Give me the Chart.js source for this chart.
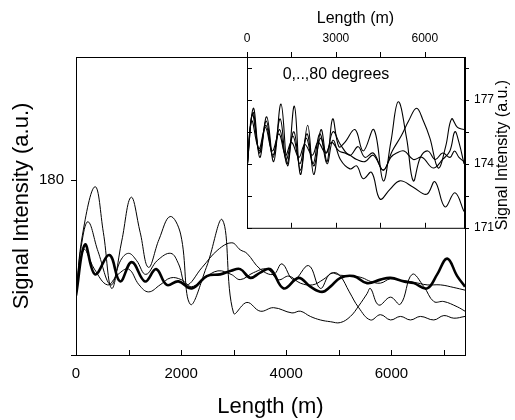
<!DOCTYPE html>
<html>
<head>
<meta charset="utf-8">
<script src="https://cdn.jsdelivr.net/npm/chart.js@4.4.1/dist/chart.umd.min.js"></script>
<style>
  html, body { margin: 0; padding: 0; background: #fff; }
  #wrap { position: relative; width: 515px; height: 420px; }
  #mainChart { position: absolute; left: 0; top: 0; }
  #insetChart { position: absolute; left: 200px; top: 0; }
</style>
</head>
<body>
<div id="wrap">
  <canvas id="mainChart" width="515" height="420"></canvas>
  <canvas id="insetChart" width="315" height="245"></canvas>
</div>
<script>
const FONT = "Arial, 'Liberation Sans', Helvetica, sans-serif";

// ---- main plot: [length (m), signal intensity] ----
const mainBold = [[0,173.4],[170,176.3],[362,174.6],[635,175.7],[838,174.2],[1060,175.3],[1314,174.2],[1524,174.9],[1727,174.0],[1949,174.2],[2203,173.8],[2489,174.5],[2743,174.6],[2950,174.8],[3124,174.9],[3315,174.4],[3505,174.7],[3696,174.9],[3950,173.8],[4235,174.4],[4458,173.9],[4680,173.6],[4839,173.9],[5029,174.4],[5283,174.5],[5537,174.1],[5791,174.3],[5982,174.4],[6236,174.2],[6426,174.1],[6680,173.8],[6871,174.6],[7061,175.5],[7252,174.5],[7400,173.9]];
const mainA = [[0,173.4],[120,176.8],[362,179.6],[520,177.0],[679,173.8],[870,176.5],[1048,179.0],[1220,177.0],[1378,175.0],[1580,176.6],[1791,177.9],[1990,176.9],[2172,172.9],[2480,175.0],[2787,177.7],[2997,172.4],[3251,173.0],[3505,172.5],[3759,172.7],[4108,172.4],[4267,172.5],[4458,172.2],[4648,172.0],[4839,171.9],[5029,171.85],[5220,172.2],[5378,172.8],[5537,173.5],[5600,173.8],[5759,172.85],[5982,173.3],[6172,172.9],[6394,174.6],[6617,173.9],[6807,173.05],[6998,173.05],[7252,172.75],[7400,172.5]];
const mainC = [[0,173.4],[100,176.2],[230,177.6],[420,175.9],[661,174.0],[850,175.4],[1000,175.8],[1150,175.4],[1327,174.6],[1550,175.4],[1803,175.8],[1950,175.2],[2100,174.0],[2400,175.0],[2700,176.0],[2965,176.4],[3124,176.0],[3251,175.8],[3505,174.9],[3759,174.6],[3918,175.2],[4140,174.3],[4426,175.1],[4648,173.8],[4839,174.65],[5029,174.55],[5283,174.5],[5450,174.4],[5600,174.2],[5791,174.1],[5982,174.35],[6172,174.25],[6426,174.15],[6680,174.0],[6934,174.0],[7188,173.85],[7400,173.7]];
const mainD = [[0,173.4],[150,176.0],[350,174.9],[600,174.0],[800,174.6],[1000,174.9],[1200,174.0],[1380,173.6],[1600,174.0],[1800,174.4],[2000,174.3],[2200,173.9],[2450,174.4],[2700,174.8],[2950,174.6],[3124,174.3],[3378,174.7],[3632,174.9],[3850,174.3],[4050,174.5],[4267,174.1],[4500,174.0],[4700,174.3],[4900,174.7],[5029,174.5],[5200,173.6],[5378,172.7],[5600,172.0],[5791,172.3],[5982,172.0],[6172,172.2],[6362,172.0],[6553,172.2],[6807,172.0],[6998,172.25],[7188,172.1],[7400,172.2]];

const mainXTicks = [0,1000,2000,3000,4000,5000,6000,7000];
const mainXLabels = ['0','','2000','','4000','','6000',''];
const mainYTicks = [170,180];
const mainYLabels = ['','180'];

// ---- inset: 0,..,80 degrees ----
const insetA = [[0,173.75],[214,176.6],[430,174.3],[664,176.2],[900,174.1],[1147,176.8],[1370,173.9],[1597,176.7],[1800,173.5],[2046,175.8],[2250,173.5],[2496,175.6],[2700,174.1],[2889,176.1],[3100,174.8],[3300,175.0],[3641,175.6],[3922,174.6],[4281,175.6],[4596,173.2],[4850,175.0],[5102,176.9],[5383,175.2],[5608,173.2],[5850,174.3],[6100,174.6],[6350,174.2],[6600,174.5],[6850,174.3],[7000,174.6],[7150,174.3],[7320,174.1]];
const insetB = [[0,173.75],[180,176.3],[420,174.6],[640,175.8],[870,174.4],[1100,175.6],[1320,174.2],[1550,175.3],[1780,174.0],[2000,175.2],[2230,174.0],[2450,175.4],[2680,174.5],[2900,175.5],[3150,174.9],[3472,174.4],[3750,174.8],[3978,174.3],[4259,174.5],[4596,173.7],[4900,174.6],[5200,175.3],[5450,176.0],[5720,176.6],[5950,176.0],[6170,175.2],[6451,173.8],[6700,174.8],[6900,176.1],[7100,175.7],[7320,175.6]];
const insetC = [[0,173.75],[160,176.0],[400,174.7],[620,175.7],[850,174.6],[1080,175.4],[1300,174.4],[1500,175.0],[1750,174.3],[1950,174.9],[2200,174.4],[2400,175.0],[2650,174.5],[2850,175.0],[3100,174.6],[3300,174.5],[3472,174.4],[3700,174.2],[3978,174.1],[4259,174.4],[4596,173.7],[4850,174.3],[5046,174.5],[5300,174.6],[5608,174.2],[5900,174.3],[6282,173.8],[6600,174.2],[6844,174.6],[7012,175.5],[7150,175.0],[7320,174.0]];
const insetD = [[0,173.75],[200,176.4],[420,174.5],[650,176.0],[880,174.3],[1120,176.1],[1340,174.0],[1580,175.5],[1800,173.7],[2020,175.4],[2250,173.9],[2480,175.2],[2700,174.0],[2900,175.1],[3150,174.2],[3472,173.76],[3700,173.9],[3922,173.3],[4203,173.6],[4485,172.35],[4822,172.8],[5159,173.2],[5609,172.9],[6058,172.57],[6339,173.16],[6677,171.98],[7014,172.64],[7320,171.76]];

const insetXTicks = [0,1500,3000,4500,6000];
const insetXLabels = ['0','','3000','','6000'];
const insetYTicks = [171,172.5,174,175.5,177,178.5];
const insetYLabels = ['171','','174','','177',''];

const toPts = arr => arr.map(p => ({ x: p[0], y: p[1] }));
const line = (arr, w) => ({
  data: toPts(arr), borderColor: '#000', borderWidth: w, pointRadius: 0,
  fill: false, tension: 0.4
});

// box + hand made tick marks (inward on x, outward on y)
const mainFrame = {
  id: 'mainFrame',
  afterDraw(chart) {
    const { ctx, chartArea: a, scales: { x, y } } = chart;
    ctx.save();
    ctx.strokeStyle = '#000';
    ctx.lineWidth = 1;
    ctx.strokeRect(a.left + 0.5, a.top + 0.5, a.right - a.left, a.bottom - a.top);
    ctx.beginPath();
    x.ticks.forEach(t => {
      const px = Math.round(x.getPixelForValue(t.value)) + 0.5;
      ctx.moveTo(px, a.bottom); ctx.lineTo(px, a.bottom - 5);
    });
    y.ticks.forEach(t => {
      const py = Math.round(y.getPixelForValue(t.value)) + 0.5;
      ctx.moveTo(a.left, py); ctx.lineTo(a.left - 5, py);
    });
    ctx.stroke();
    ctx.restore();
  }
};

const insetFrame = {
  id: 'insetFrame',
  afterDraw(chart) {
    const { ctx, chartArea: a, scales: { x, y } } = chart;
    ctx.save();
    ctx.strokeStyle = '#000';
    ctx.lineWidth = 1;
    ctx.strokeRect(a.left + 0.5, a.top + 0.5, a.right - a.left, a.bottom - a.top);
    ctx.beginPath();
    x.ticks.forEach(t => {
      const px = Math.round(x.getPixelForValue(t.value)) + 0.5;
      ctx.moveTo(px, a.top); ctx.lineTo(px, a.top - 5);
      ctx.moveTo(px, a.bottom); ctx.lineTo(px, a.bottom - 5);
    });
    y.ticks.forEach(t => {
      const py = Math.round(y.getPixelForValue(t.value)) + 0.5;
      ctx.moveTo(a.right, py); ctx.lineTo(a.right + 5, py);
      ctx.moveTo(a.left, py); ctx.lineTo(a.left + 5, py);
    });
    ctx.stroke();
    ctx.fillStyle = '#000';
    ctx.font = '16px ' + FONT;
    ctx.textAlign = 'center';
    ctx.textBaseline = 'middle';
    ctx.fillText('0,..,80 degrees', 136, 75);
    // right axis title reads bottom to top
    ctx.translate(303, 155);
    ctx.rotate(-Math.PI / 2);
    ctx.fillText('Signal Intensity (a.u.)', 0, 0);
    ctx.restore();
  }
};

new Chart(document.getElementById('mainChart'), {
  type: 'line',
  data: { datasets: [line(mainA, 1), line(mainC, 1), line(mainD, 1), line(mainBold, 2.6)] },
  options: {
    responsive: false, animation: false, devicePixelRatio: 1,
    layout: { padding: { top: 57, right: 50, left: 0, bottom: 0 } },
    plugins: { legend: { display: false }, tooltip: { enabled: false } },
    scales: {
      x: {
        type: 'linear', min: 0, max: 7400,
        grid: { display: false, drawTicks: false }, border: { display: false },
        afterBuildTicks: s => { s.ticks = mainXTicks.map(v => ({ value: v })); },
        ticks: { autoSkip: false, maxRotation: 0, padding: 10, color: '#000',
                 font: { family: FONT, size: 15 },
                 callback: (v, i) => mainXLabels[i] },
        title: { display: true, text: 'Length (m)', color: '#000',
                 font: { family: FONT, size: 22 }, padding: { top: 0, bottom: 0 } },
        afterFit: s => { s.height = 65; }
      },
      y: {
        type: 'linear', min: 170, max: 187,
        grid: { display: false, drawTicks: false }, border: { display: false },
        afterBuildTicks: s => { s.ticks = mainYTicks.map(v => ({ value: v })); },
        ticks: { autoSkip: false, padding: 12, color: '#000',
                 font: { family: FONT, size: 15 },
                 callback: (v, i) => mainYLabels[i] },
        title: { display: true, text: 'Signal Intensity (a.u.)', color: '#000',
                 font: { family: FONT, size: 22 }, padding: { top: 9, bottom: 0 } },
        afterFit: s => { s.width = 76; }
      }
    }
  },
  plugins: [mainFrame]
});

new Chart(document.getElementById('insetChart'), {
  type: 'line',
  data: { datasets: [line(insetA, 1.1), line(insetB, 1.1), line(insetC, 1.1), line(insetD, 1.1)] },
  options: {
    responsive: false, animation: false, devicePixelRatio: 1,
    layout: { padding: { top: 0, right: 0, left: 47, bottom: 8 } },
    plugins: { legend: { display: false }, tooltip: { enabled: false } },
    scales: {
      x: {
        type: 'linear', position: 'top', min: 0, max: 7320,
        grid: { display: false, drawTicks: false }, border: { display: false },
        afterBuildTicks: s => { s.ticks = insetXTicks.map(v => ({ value: v })); },
        ticks: { autoSkip: false, maxRotation: 0, padding: 11, color: '#000',
                 font: { family: FONT, size: 12 },
                 callback: (v, i) => insetXLabels[i] },
        title: { display: true, text: 'Length (m)', color: '#000',
                 font: { family: FONT, size: 16 }, padding: { top: 9, bottom: 0 } },
        afterFit: s => { s.height = 57; }
      },
      y: {
        type: 'linear', position: 'right', min: 171, max: 179,
        grid: { display: false, drawTicks: false }, border: { display: false },
        afterBuildTicks: s => { s.ticks = insetYTicks.map(v => ({ value: v })); },
        ticks: { autoSkip: false, padding: 10, color: '#000',
                 font: { family: FONT, size: 12 },
                 callback: (v, i) => insetYLabels[i] },
        afterFit: s => { s.width = 51; }
      }
    }
  },
  plugins: [insetFrame]
});
</script>
</body>
</html>
